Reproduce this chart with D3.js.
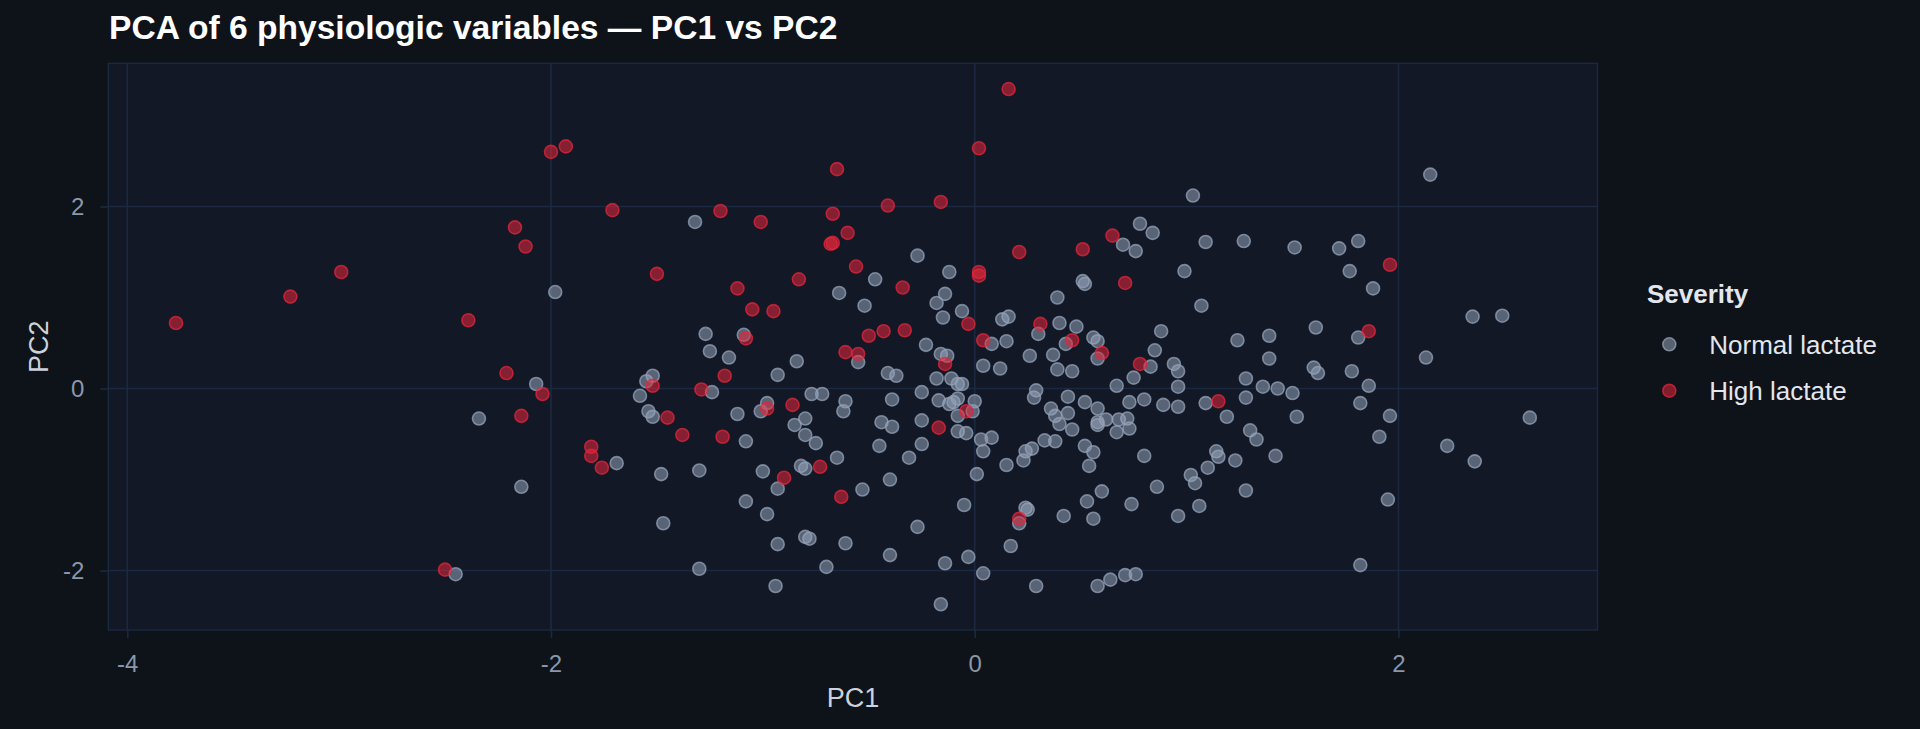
<!DOCTYPE html>
<html>
<head>
<meta charset="utf-8">
<script src="https://cdn.jsdelivr.net/npm/d3@7"></script>
<style>
  body { margin: 0; background: #0e1219; }
  svg { display: block; }
</style>
</head>
<body>
<script>
// PCA scores: [PC1, PC2]
var normalLactate = [
  [-1.98,1.06], [-2.07,0.05], [-2.34,-0.33], [-2.14,-1.08], [-2.45,-2.04],
  [-1.32,1.83], [-0.27,1.46], [-0.12,1.28], [-0.47,1.20], [-0.64,1.05], [-0.52,0.91], [-0.14,1.04],
  [-0.18,0.94], [-0.15,0.78], [-0.06,0.85], [0.51,1.18], [0.52,1.15], [0.39,1.00], [0.13,0.76],
  [0.16,0.79], [0.40,0.72], [0.48,0.68], [0.30,0.60], [0.56,0.56], [0.58,0.52], [0.15,0.52],
  [0.08,0.49], [0.43,0.49], [-0.23,0.48], [-1.27,0.60], [-1.09,0.59],
  [-1.25,0.41], [-1.16,0.34], [-0.55,0.29], [-0.84,0.30], [-0.93,0.15], [-1.52,0.14], [-1.55,0.08],
  [-1.58,-0.08], [-1.24,-0.04], [-1.54,-0.25], [-1.52,-0.31], [-1.12,-0.28], [-1.08,-0.58], [-0.98,-0.16],
  [-1.01,-0.25], [-0.77,-0.06], [-0.72,-0.06], [-0.61,-0.14], [-0.62,-0.25], [-0.80,-0.33], [-0.85,-0.40],
  [-0.80,-0.51], [-0.75,-0.60], [-0.65,-0.76], [-0.82,-0.85], [-0.80,-0.88], [-1.00,-0.91], [-0.93,-1.10],
  [-1.30,-0.90], [-1.48,-0.94], [-1.69,-0.82], [-1.08,-1.24], [-0.98,-1.38], [-0.53,-1.11], [-0.40,-1.00],
  [-1.47,-1.48], [-0.93,-1.71], [-0.80,-1.63], [-0.78,-1.65], [-0.61,-1.70], [-0.40,-1.83], [-0.27,-1.52],
  [-1.30,-1.98], [-0.70,-1.96], [-0.94,-2.17], [-0.14,-1.92], [-0.03,-1.85], [0.04,-2.03], [-0.16,-2.37],
  [-0.05,-1.28], [0.17,-1.73], [0.29,-2.17], [0.58,-2.17], [0.24,-1.31], [0.25,-1.33], [0.21,-1.48],
  [0.42,-1.40], [0.53,-1.24], [0.56,-1.43], [0.60,-1.13], [0.01,-0.94], [0.15,-0.84], [0.23,-0.79],
  [0.24,-0.69], [0.27,-0.66], [0.33,-0.57], [0.38,-0.58], [0.52,-0.63], [0.56,-0.70], [0.54,-0.85],
  [0.04,-0.69], [0.03,-0.56], [0.08,-0.54], [-0.31,-0.76], [-0.25,-0.61], [-0.45,-0.63], [-0.44,-0.37],
  [-0.39,-0.42], [-0.25,-0.35], [-0.08,-0.47], [-0.04,-0.49], [-0.39,-0.12], [-0.25,-0.04], [-0.18,0.11],
  [-0.11,0.11], [-0.08,0.05], [-0.06,0.05], [-0.17,-0.13], [-0.12,-0.17], [-0.08,-0.11], [-0.10,-0.15],
  [0.00,-0.14], [-0.01,-0.25], [-0.08,-0.30], [-0.41,0.17], [-0.37,0.14], [-0.16,0.38], [-0.13,0.36],
  [0.04,0.25], [0.12,0.22], [0.26,0.36], [0.37,0.37], [0.39,0.21], [0.46,0.19], [0.58,0.33],
  [0.58,-0.37], [0.58,-0.22], [0.44,-0.09], [0.52,-0.15], [0.44,-0.27], [0.46,-0.45], [0.36,-0.22],
  [0.38,-0.30], [0.40,-0.39], [0.29,-0.02], [0.28,-0.10],
  [1.03,2.12], [2.15,2.35], [0.78,1.81], [0.84,1.71], [0.70,1.58], [0.76,1.51], [1.09,1.61],
  [1.27,1.62], [1.51,1.55], [1.72,1.54], [1.81,1.62], [1.77,1.29], [1.88,1.10], [0.99,1.29],
  [1.07,0.91], [0.88,0.63], [1.24,0.53], [1.39,0.58], [1.61,0.67], [1.81,0.56], [2.35,0.79], [2.49,0.80],
  [0.85,0.42], [0.83,0.24], [0.94,0.27], [0.96,0.19], [0.75,0.12], [0.67,0.03], [0.96,0.02],
  [0.73,-0.15], [0.80,-0.12], [0.89,-0.18], [0.96,-0.20], [1.09,-0.16], [1.19,-0.31], [1.28,0.11],
  [1.39,0.33], [1.28,-0.10], [1.36,0.02], [1.43,0.00], [1.50,-0.05], [1.52,-0.31], [1.60,0.23],
  [1.62,0.17], [1.78,0.19], [1.86,0.03], [1.82,-0.16], [1.96,-0.30], [1.91,-0.53], [2.13,0.34],
  [2.62,-0.32], [2.23,-0.63], [2.36,-0.80], [1.95,-1.22], [1.82,-1.94], [1.30,-0.46], [1.33,-0.56],
  [1.42,-0.74], [1.14,-0.69], [1.15,-0.75], [1.23,-0.79], [1.10,-0.87], [1.02,-0.95], [1.04,-1.04],
  [1.28,-1.12], [0.86,-1.08], [1.06,-1.29], [0.96,-1.40], [0.74,-1.27], [0.80,-0.74], [0.62,-0.34],
  [0.68,-0.34], [0.72,-0.33], [0.73,-0.44], [0.67,-0.48], [0.58,-0.40], [0.64,-2.10], [0.71,-2.05],
  [0.76,-2.04]
];

var highLactate = [
  [-3.77,0.72], [-3.23,1.01], [-2.99,1.28], [-2.39,0.75], [-2.17,1.77], [-2.12,1.56], [-2.00,2.60], [-1.93,2.66],
  [-2.21,0.17], [-2.04,-0.06], [-2.14,-0.30], [-1.81,-0.64], [-1.81,-0.74], [-1.76,-0.87], [-2.50,-1.99],
  [-1.71,1.96], [0.16,3.29], [0.02,2.64], [-0.65,2.41], [-0.41,2.01], [-0.16,2.05], [-1.20,1.95],
  [-1.01,1.83], [-0.67,1.92], [-0.60,1.71], [-0.67,1.60], [-0.68,1.59], [0.21,1.50], [0.51,1.53],
  [-1.50,1.26], [-1.12,1.10], [-0.83,1.20], [-0.56,1.34], [0.02,1.28], [0.02,1.24], [-0.34,1.11],
  [-0.03,0.71], [0.31,0.71], [0.46,0.53], [0.04,0.53], [-0.43,0.63], [-0.33,0.64], [-0.50,0.58],
  [-1.08,0.55], [-1.05,0.87], [-0.95,0.85],
  [-0.61,0.40], [-0.55,0.38], [-1.18,0.14], [-1.52,0.03], [-1.29,-0.01], [-1.45,-0.32], [-1.38,-0.51],
  [-1.19,-0.53], [-0.98,-0.22], [-0.86,-0.18], [-0.73,-0.86], [-0.90,-0.98], [-0.63,-1.19], [-0.17,-0.43],
  [-0.04,-0.25], [-0.14,0.27], [0.21,-1.43], [0.60,0.39],
  [0.65,1.68], [1.96,1.36], [0.71,1.16], [1.86,0.63],
  [0.78,0.27], [1.15,-0.14]
];

var groups = ["Normal lactate", "High lactate"];
var groupColors = ["#94a3b8", "#e3263b"];
var xTicks = [-4, -2, 0, 2];
var yTicks = [-2, 0, 2];

// set the dimensions of the panel
var W = 1920, H = 729;
var panel = {left: 108.3, right: 1597.5, top: 63.3, bottom: 630};

var svg = d3.select("body").append("svg")
    .attr("width", W)
    .attr("height", H)
    .style("font-family", "'Liberation Sans', Arial, Helvetica, sans-serif");

svg.append("rect")
    .attr("width", W)
    .attr("height", H)
    .attr("fill", "#0e1219");

// ggplot-like 5% expansion around the data range
var allPts = normalLactate.concat(highLactate);
function expand(ext) {
  var pad = (ext[1] - ext[0]) * 0.05;
  return [ext[0] - pad, ext[1] + pad];
}
var x = d3.scaleLinear()
    .domain(expand(d3.extent(allPts, function(d) { return d[0]; })))
    .range([panel.left, panel.right]);
var y = d3.scaleLinear()
    .domain(expand(d3.extent(allPts, function(d) { return d[1]; })))
    .range([panel.bottom, panel.top]);

var gridColor = "#1b2940";

// panel background
svg.append("rect")
    .attr("x", panel.left)
    .attr("y", panel.top)
    .attr("width", panel.right - panel.left)
    .attr("height", panel.bottom - panel.top)
    .attr("fill", "#121826");

// grid lines
svg.append("g").selectAll("line")
    .data(xTicks)
    .enter().append("line")
    .attr("x1", function(d) { return x(d); })
    .attr("x2", function(d) { return x(d); })
    .attr("y1", panel.top)
    .attr("y2", panel.bottom)
    .attr("stroke", gridColor)
    .attr("stroke-width", 1.6);
svg.append("g").selectAll("line")
    .data(yTicks)
    .enter().append("line")
    .attr("y1", function(d) { return y(d); })
    .attr("y2", function(d) { return y(d); })
    .attr("x1", panel.left)
    .attr("x2", panel.right)
    .attr("stroke", gridColor)
    .attr("stroke-width", 1.6);

// panel border
svg.append("rect")
    .attr("x", panel.left)
    .attr("y", panel.top)
    .attr("width", panel.right - panel.left)
    .attr("height", panel.bottom - panel.top)
    .attr("fill", "none")
    .attr("stroke", gridColor)
    .attr("stroke-width", 1.4);

// axes
var xAxis = svg.append("g")
    .attr("transform", "translate(0," + panel.bottom + ")")
    .call(d3.axisBottom(x).tickValues(xTicks).tickSize(8).tickPadding(17)
      .tickFormat(function(d) { return d < 0 ? "-" + Math.abs(d) : d; }));
var yAxis = svg.append("g")
    .attr("transform", "translate(" + panel.left + ",0)")
    .call(d3.axisLeft(y).tickValues(yTicks).tickSize(8).tickPadding(16)
      .tickFormat(function(d) { return d < 0 ? "-" + Math.abs(d) : d; }));
[xAxis, yAxis].forEach(function(a) {
  a.select(".domain").remove();
  a.selectAll(".tick line").attr("stroke", gridColor).attr("stroke-width", 1.6);
  a.selectAll(".tick text")
      .attr("fill", "#8b97ac")
      .attr("font-size", 24)
      .attr("font-family", "'Liberation Sans', Arial, sans-serif");
});

// points
function drawPoints(data, color) {
  svg.append("g").selectAll("circle")
      .data(data)
      .enter().append("circle")
      .attr("cx", function(d) { return x(d[0]); })
      .attr("cy", function(d) { return y(d[1]); })
      .attr("r", 6.5)
      .attr("fill", color)
      .attr("fill-opacity", 0.55)
      .attr("stroke", color)
      .attr("stroke-opacity", 0.75)
      .attr("stroke-width", 1.6);
}
drawPoints(normalLactate, groupColors[0]);
drawPoints(highLactate, groupColors[1]);

// title
svg.append("text")
    .attr("x", 109)
    .attr("y", 39)
    .attr("fill", "#ffffff")
    .attr("font-size", 33.6)
    .attr("font-weight", "bold")
    .text("PCA of 6 physiologic variables \u2014 PC1 vs PC2");

// axis labels
svg.append("text")
    .attr("x", (panel.left + panel.right) / 2)
    .attr("y", 707)
    .attr("text-anchor", "middle")
    .attr("fill", "#cbd2dc")
    .attr("font-size", 27)
    .text("PC1");
svg.append("text")
    .attr("transform", "translate(47.5," + ((panel.top + panel.bottom) / 2) + ") rotate(-90)")
    .attr("text-anchor", "middle")
    .attr("fill", "#cbd2dc")
    .attr("font-size", 27)
    .text("PC2");

// legend
var legend = svg.append("g").attr("transform", "translate(1647,0)");
legend.append("text")
    .attr("x", 0)
    .attr("y", 303)
    .attr("fill", "#e2e6ee")
    .attr("font-size", 26)
    .attr("font-weight", "bold")
    .text("Severity");
var item = legend.selectAll(".item")
    .data(groups)
    .enter().append("g")
    .attr("class", "item")
    .attr("transform", function(d, i) { return "translate(0," + (344.3 + i * 46.4) + ")"; });
item.append("circle")
    .attr("cx", 22.3)
    .attr("r", 6.5)
    .attr("fill", function(d, i) { return groupColors[i]; })
    .attr("fill-opacity", 0.55)
    .attr("stroke", function(d, i) { return groupColors[i]; })
    .attr("stroke-opacity", 0.75)
    .attr("stroke-width", 1.6);
item.append("text")
    .attr("x", 62.3)
    .attr("y", 9.5)
    .attr("fill", "#e2e6ee")
    .attr("font-size", 26)
    .text(function(d) { return d; });
</script>
</body>
</html>
